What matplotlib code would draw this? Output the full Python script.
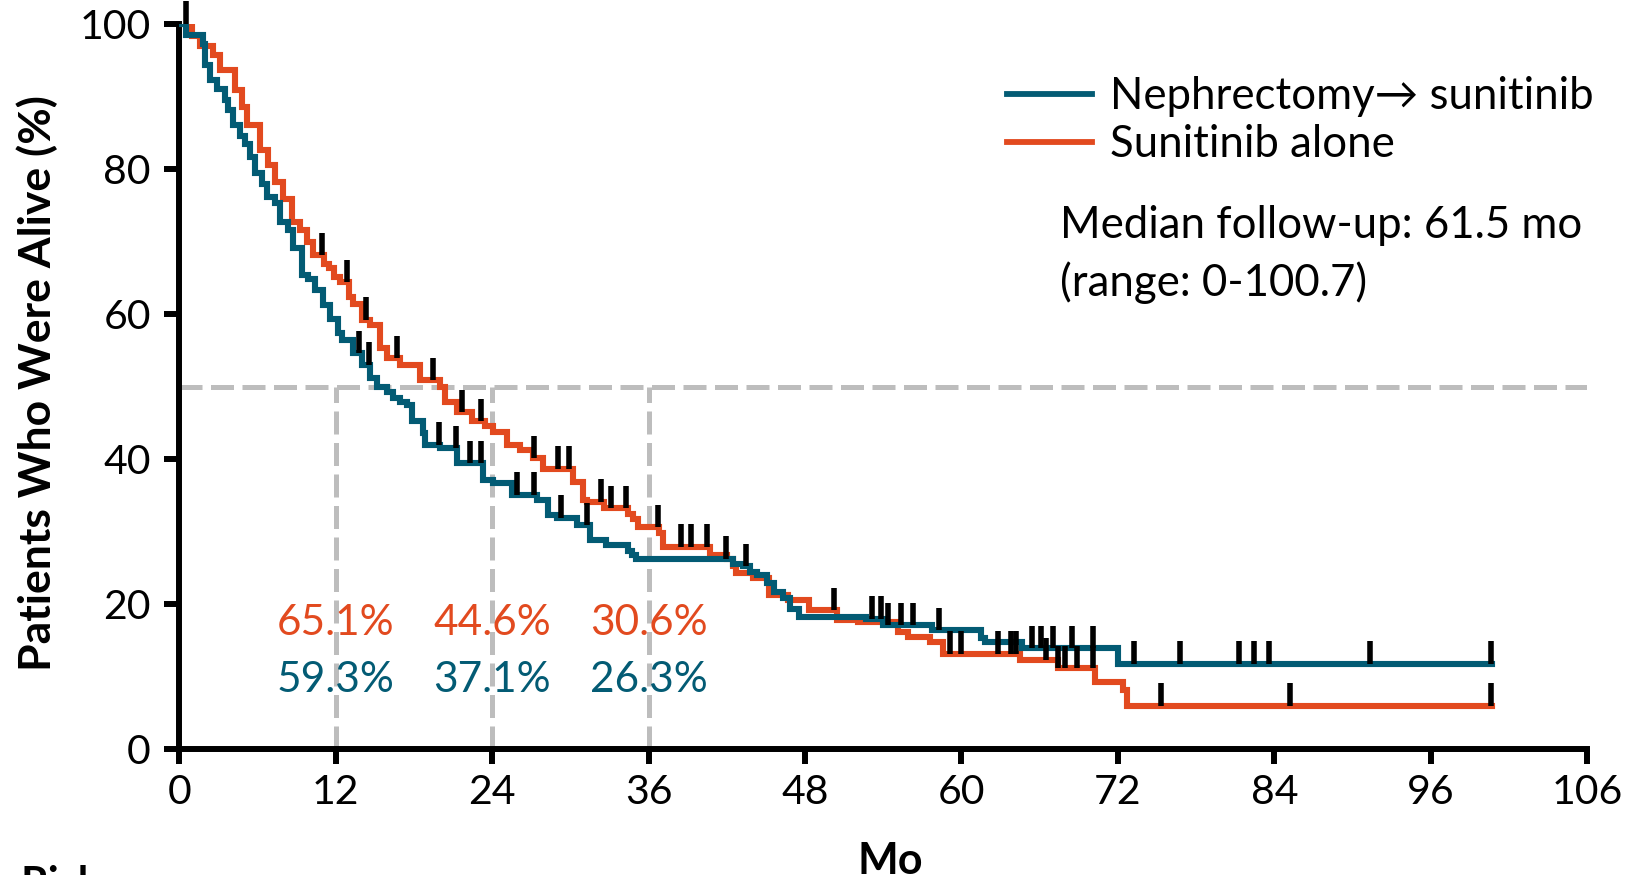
import numpy as np
import matplotlib
matplotlib.use('Agg')
import matplotlib.pyplot as plt
from matplotlib.lines import Line2D

plt.rcParams['font.family'] = ['Lato', 'DejaVu Sans']

azul = '#035B74'
naranja = '#E24A1F'
gris = '#BDBDBD'

# Nefrectomia -> sunitinib: tiempos (meses) y supervivencia (%)
nefro_t = [0, 0.5, 1.84, 2.0, 2.35, 2.87, 3.5, 3.76, 4.14, 4.65, 5.04, 5.42, 5.81, 6.32, 6.7,
           7.34, 7.72, 8.36, 8.74, 9.38, 9.9, 10.41, 11.04, 11.56, 12.2, 12.45, 13.35, 13.99, 14.62,
           15.14, 15.9, 16.41, 16.9, 17.44, 17.82, 18.71, 18.84, 19.99, 21.27, 23.32, 24.1, 25.49,
           27.41, 28.3, 28.94, 30.5, 31.49, 32.77, 34.43, 34.75, 35.07, 42.49, 43.26, 43.77, 44.3,
           45.11, 45.65, 46.32, 46.86, 47.53, 52.64, 53.99, 57.75, 61.52, 61.79, 64.61, 72.01, 100.7]
nefro_s = [100, 98.5, 97.3, 94.3, 92.3, 91.1, 89.5, 88.1, 86.1, 84.5, 83.5, 81.7, 79.4, 78.0, 76.2,
           75.3, 72.7, 71.6, 69.1, 65.4, 64.9, 63.3, 61.3, 59.3, 57.4, 56.4, 54.6, 53.0, 51.2,
           50.0, 49.3, 48.4, 47.9, 47.5, 45.2, 43.6, 42.0, 41.5, 39.4, 37.1, 36.7, 35.1,
           34.4, 32.3, 31.9, 30.9, 28.9, 28.2, 27.3, 26.8, 26.3, 25.6, 25.2, 24.5, 24.0,
           22.9, 21.7, 20.8, 19.4, 18.3, 18.0, 17.1, 16.4, 15.3, 14.8, 13.9, 11.8, 11.8]
nefro_cens = [13.77, 14.54, 19.94, 21.2, 22.3, 23.14, 25.92, 27.2, 29.27, 31.29, 41.92, 43.5,
              53.13, 53.85, 54.39, 55.33, 56.27, 58.29, 65.42, 66.09, 67.03, 68.46, 70.12,
              73.27, 76.77, 81.29, 82.42, 83.57, 91.37, 100.6]

# Sunitinib solo
suni_t = [0, 0.95, 1.59, 2.61, 3.12, 4.27, 4.78, 5.17, 6.19, 6.83, 7.34, 7.98, 8.62, 9.26, 9.77,
          10.28, 11.1, 11.5, 11.9, 12.3, 13.0, 13.35, 13.99, 14.62, 15.39, 15.9, 16.9, 18.46, 19.99,
          20.38, 21.27, 22.42, 23.45, 24.08, 25.11, 26.13, 27.15, 27.92, 30.22, 30.99, 31.24, 32.6,
          34.4, 34.8, 35.2, 36.8, 37.12, 40.7, 41.98, 42.49, 42.74, 44.02, 45.24, 46.72, 48.34,
          50.49, 52.1, 55.1, 55.87, 57.55, 58.56, 64.48, 67.44, 70.26, 72.41, 72.68, 100.7]
suni_s = [100, 98.3, 96.9, 95.7, 93.7, 90.9, 88.6, 86.1, 82.6, 80.6, 78.2, 75.9, 72.7, 71.6, 69.9,
          68.1, 66.9, 66.3, 65.1, 64.4, 62.4, 61.4, 59.2, 58.5, 55.3, 53.9, 53.0, 50.9, 50.0,
          47.9, 46.5, 45.2, 44.6, 43.8, 42.0, 41.2, 40.1, 38.7, 36.9, 34.4, 34.1, 33.2,
          32.5, 31.8, 30.6, 29.8, 27.9, 26.8, 26.3, 25.2, 24.3, 23.6, 21.3, 20.6, 19.2,
          17.8, 17.6, 16.2, 15.5, 14.8, 13.2, 12.3, 11.2, 9.3, 8.2, 6.0, 6.0]
suni_cens = [0.55, 10.95, 12.9, 14.36, 16.67, 19.5, 21.65, 23.14, 27.2, 29.04, 29.91, 32.34, 33.1,
             34.25, 36.69, 38.48, 39.24, 40.5, 50.22, 59.1, 59.98, 62.81, 63.8, 64.21, 66.49,
             67.44, 67.97, 68.83, 70.12, 75.29, 85.19, 100.6]

# supervivencia a 12, 24 y 36 meses
hitos = [12, 24, 36]
suni_hitos = [65.1, 44.6, 30.6]
nefro_hitos = [59.3, 37.1, 26.3]

etiquetas_x = ['0', '12', '24', '36', '48', '60', '72', '84', '96', '106']

fig = plt.figure(figsize=(16.34, 8.75), dpi=100)
ax = fig.add_axes([0.1097, 0.1437, 0.8617, 0.8289])

# lineas de referencia
ax.axhline(50, color=gris, lw=3.6, dashes=(4.6, 1.7), zorder=1)
for h in hitos:
    ax.plot([h, h], [0, 50], color=gris, lw=3.6, dashes=(4.6, 1.7), zorder=1)

def censuras(tiempos, surv, cens):
    idx = np.searchsorted(tiempos, cens, side='right') - 1
    return np.array(surv)[idx]

for t, s, c, col in [(suni_t, suni_s, suni_cens, naranja), (nefro_t, nefro_s, nefro_cens, azul)]:
    ax.step(t, s, where='post', color=col, lw=4.4, zorder=3, solid_joinstyle='miter')
    yc = censuras(t, s, c)
    ax.vlines(c, yc, yc + 3.1, color='black', lw=4, zorder=4, clip_on=False)

for h, vs, vn in zip(hitos, suni_hitos, nefro_hitos):
    ax.text(h, 15.76, f'{vs:.1f}%', color=naranja, fontsize=30.5, ha='center', va='baseline')
    ax.text(h, 7.94, f'{vn:.1f}%', color=azul, fontsize=30.5, ha='center', va='baseline')

ax.set_xlim(0, 108)
ax.set_ylim(0, 100)
ax.set_xticks(range(0, 109, 12))
ax.set_xticklabels(etiquetas_x)
ax.set_yticks(range(0, 101, 20))
for lado in ['top', 'right']:
    ax.spines[lado].set_visible(False)
for lado in ['left', 'bottom']:
    ax.spines[lado].set_linewidth(4.3)
ax.tick_params(length=10.5, width=4.3, labelsize=29.5, pad=7)
ax.tick_params(axis='y', pad=10)

leyenda = [Line2D([0], [0], color=azul, lw=4.2), Line2D([0], [0], color=naranja, lw=4.2)]
ax.legend(leyenda, ['Nephrectomy\u2192 sunitinib', 'Sunitinib alone'],
          loc='upper left', bbox_to_anchor=(1007 / 1634, 1 - 76 / 875),
          bbox_transform=fig.transFigure, frameon=False, fontsize=31.5,
          handlelength=1.94, handletextpad=0.41, labelspacing=0.17,
          borderpad=0, borderaxespad=0)

fig.text(1060 / 1634, 1 - 226 / 875, 'Median follow-up: 61.5 mo', fontsize=31.5, va='center')
fig.text(1060 / 1634, 1 - 283 / 875, '(range: 0-100.7)', fontsize=31.5, va='center')

fig.text(37 / 1634, 0.5624, 'Patients Who Were Alive (%)', fontsize=32, fontweight='bold',
         rotation=90, ha='center', va='center')
fig.text(890 / 1634, 1 - 874 / 875, 'Mo', fontsize=31, fontweight='bold', ha='center', va='baseline')
fig.text(20 / 1634, 1 - 898 / 875, 'Risk', fontsize=31, fontweight='bold', va='baseline')

plt.savefig('out.png', dpi=100)
